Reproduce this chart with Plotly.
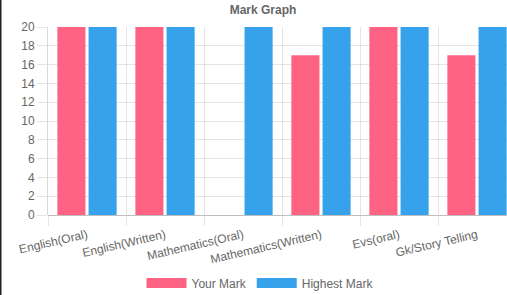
import plotly.graph_objects as go

categories = ["English(Oral)", "English(Written)", "Mathematics(Oral)",
              "Mathematics(Written)", "Evs(oral)", "Gk/Story Telling"]
your_mark = [20, 20, 0, 17, 20, 17]
highest_mark = [20, 20, 20, 20, 20, 20]
y_ticks = list(range(0, 21, 2))

RED = "rgb(255,99,132)"
BLUE = "rgb(54,162,235)"
FONT = "Liberation Sans, Arial, sans-serif"
GREY = "#666666"

W, H = 507, 295
ML, MT, MB = 48, 27, 80
CAT_PX = 78.0
plot_w = W - ML

fig = go.Figure()
fig.add_trace(go.Bar(x=categories, y=your_mark, name="Your Mark",
                     marker=dict(color=RED, line=dict(width=0)),
                     showlegend=False))
fig.add_trace(go.Bar(x=categories, y=highest_mark, name="Highest Mark",
                     marker=dict(color=BLUE, line=dict(width=0)),
                     showlegend=False))
# legend swatches
fig.add_trace(go.Scatter(x=[None], y=[None], mode="lines", name="Your Mark",
                         line=dict(color=RED, width=12)))
fig.add_trace(go.Scatter(x=[None], y=[None], mode="lines", name="Highest Mark",
                         line=dict(color=BLUE, width=12)))

fig.update_layout(
    width=W, height=H,
    margin=dict(l=ML, r=0, t=MT, b=MB, autoexpand=False),
    paper_bgcolor="white", plot_bgcolor="white",
    font=dict(family=FONT, size=12, color=GREY),
    barmode="group", bargap=0.2, bargroupgap=0.1,
    title=dict(text="<b>Mark Graph</b>", font=dict(size=12, color=GREY, family=FONT),
               xref="container", x=263 / W, xanchor="center",
               yref="container", y=1 - 10 / H, yanchor="middle"),
    legend=dict(orientation="h", xref="container", yref="container",
                x=260 / W, xanchor="center", y=1 - 283 / H, yanchor="middle",
                font=dict(size=12, color=GREY), itemwidth=40,
                bgcolor="rgba(0,0,0,0)"),
    showlegend=True,
)
fig.update_xaxes(
    type="category", categoryorder="array", categoryarray=categories,
    range=[-0.5, -0.5 + plot_w / CAT_PX], automargin=False,
    tickson="boundaries", ticks="outside", ticklen=10,
    tickcolor="rgba(0,0,0,0.1)", showgrid=True, gridcolor="rgba(0,0,0,0.1)",
    tickangle=-13, ticklabelstandoff=10, tickfont=dict(size=12, color=GREY),
    showline=False, zeroline=False, fixedrange=True,
)
fig.update_yaxes(
    range=[0, 20], tickvals=y_ticks, ticks="outside", ticklen=10, automargin=False,
    tickcolor="rgba(0,0,0,0.1)", showgrid=True, gridcolor="rgba(0,0,0,0.1)",
    zeroline=True, zerolinecolor="rgba(0,0,0,0.25)", zerolinewidth=1,
    showline=True, linecolor="rgba(0,0,0,0.15)", linewidth=1,
    tickfont=dict(size=12, color=GREY), fixedrange=True,
)
# dark page edge at far left
fig.add_shape(type="line", xref="paper", yref="paper",
              x0=-(ML - 0.75) / plot_w, x1=-(ML - 0.75) / plot_w,
              y0=-MB / (H - MT - MB), y1=1 + MT / (H - MT - MB),
              line=dict(color="#222222", width=1.5))

fig.write_html("out.html", config=dict(displayModeBar=False),
               post_script="document.body.style.margin='0';document.body.style.overflow='hidden';")
